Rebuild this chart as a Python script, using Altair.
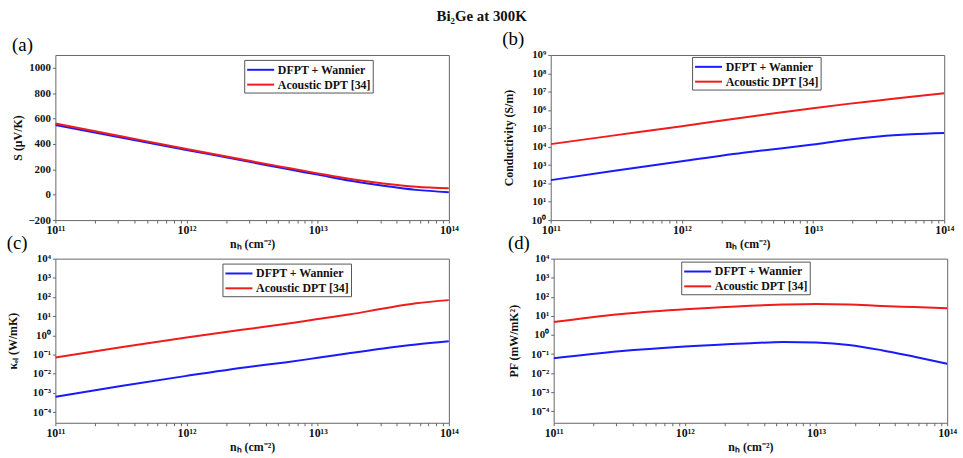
import altair as alt
import pandas as pd

# x positions: log10 of hole density n_h (cm^-2)
exps = [11, 11.5, 12, 12.5, 12.75, 13, 13.25, 13.5, 13.75, 14]
series_names = ["DFPT + Wannier", "Acoustic DPT [34]"]

# (a) Seebeck coefficient S (uV/K)
s_dfpt = [548, 450, 352, 255, 205, 158, 110, 70, 38, 20]
s_adpt = [560, 460, 360, 263, 215, 168, 123, 88, 62, 50]

# (b) Conductivity (S/m)
c_dfpt = [151, 501, 1622, 5012, 7943, 1.32e4, 2.34e4, 3.63e4, 4.79e4, 5.62e4]
c_adpt = [1.38e4, 4.27e4, 1.32e5, 4.17e5, 7.24e5, 1.26e6, 2.09e6, 3.31e6, 5.25e6, 8.13e6]

# (c) electronic thermal conductivity (W/mK)
k_dfpt = [6.3e-4, 2.3e-3, 7.8e-3, 0.024, 0.039, 0.068, 0.12, 0.21, 0.34, 0.50]
k_adpt = [0.071, 0.24, 0.78, 2.3, 3.9, 7.1, 12.6, 25, 47, 69]

# (d) power factor (mW/mK^2)
p_dfpt = [0.06, 0.14, 0.25, 0.37, 0.43, 0.40, 0.30, 0.16, 0.072, 0.031]
p_adpt = [4.8, 12.3, 22, 34, 39, 42, 40, 33, 29, 25]

BLUE = "#1a1aff"
RED = "#f01c1c"
FONT = "Liberation Serif"

SUP = {"-": "⁻", "0": "⁰", "1": "¹", "2": "²", "3": "³", "4": "⁴",
       "5": "⁵", "6": "⁶", "7": "⁷", "8": "⁸", "9": "⁹"}


def sup(n):
    return "".join(SUP[ch] for ch in str(n))


sup_arr = "[" + ",".join("'10" + sup(e) + "'" for e in range(-6, 16)) + "]"
log_label = (
    "abs(datum.value / pow(10, round(log(datum.value) / LN10)) - 1) < 1e-6 ? "
    + sup_arr + "[round(log(datum.value) / LN10) + 6] : ''"
)

x_ticks = [k * 10.0 ** e for e in range(11, 14) for k in range(1, 10)] + [1e14]


def make_df(y1, y2):
    rows = []
    for name, ys in zip(series_names, [y1, y2]):
        for e, v in zip(exps, ys):
            rows.append({"n": 10.0 ** e, "v": v, "series": name})
    return pd.DataFrame(rows)


def panel(y1, y2, label, yscale, yaxis, lx, ly, h):
    return (
        alt.Chart(make_df(y1, y2))
        .mark_line(strokeWidth=2, interpolate="monotone", clip=True)
        .encode(
            x=alt.X(
                "n:Q",
                scale=alt.Scale(type="log", domain=[1e11, 1e14], nice=False),
                axis=alt.Axis(
                    title="nₕ (cm⁻²)",
                    values=x_ticks,
                    labelExpr=log_label,
                    labelOverlap=False,
                    labelFlush=False,
                    labelFontSize=12,
                ),
            ),
            y=alt.Y("v:Q", scale=yscale, axis=yaxis),
            color=alt.Color(
                "series:N",
                scale=alt.Scale(domain=series_names, range=[BLUE, RED]),
                legend=alt.Legend(
                    title=None,
                    orient="none",
                    legendX=lx,
                    legendY=ly,
                    symbolType="M-1,0L2.9,0",
                    symbolSize=196,
                    symbolStrokeWidth=2,
                    labelFont=FONT,
                    labelFontWeight="bold",
                    labelFontSize=12,
                    labelColor="#111",
                    labelOffset=16,
                    strokeColor="#555",
                    fillColor="white",
                    padding=2,
                    rowPadding=1,
                ),
            ),
        )
        .properties(
            width=398,
            height=h,
            title=alt.TitleParams(
                label, anchor="start", frame="bounds", font=FONT,
                fontSize=19, fontWeight="normal", offset=0,
            ),
        )
    )


def log_axis(title, lo, hi, tp):
    return alt.Axis(
        title=title,
        values=[10.0 ** e for e in range(lo, hi + 1)],
        labelExpr=log_label,
        labelOverlap=False,
        labelFlush=False,
        titlePadding=tp,
    )


a = panel(
    s_dfpt, s_adpt, "(a)",
    alt.Scale(domain=[-200, 1100], nice=False),
    alt.Axis(title="S (μV/K)", values=list(range(-200, 1001, 200)),
             format="d", labelOverlap=False, labelFlush=False),
    191, 5, 167,
)
b = panel(
    c_dfpt, c_adpt, "(b)",
    alt.Scale(type="log", domain=[1, 1e9], nice=False),
    log_axis("Conductivity (S/m)", 0, 9, 16),
    143, 2, 167,
)
c = panel(
    k_dfpt, k_adpt, "(c)",
    alt.Scale(type="log", domain=[2.8e-5, 1e4], nice=False),
    log_axis("κₑₗ (W/mK)", -4, 4, 13),
    169, 5, 166,
)
d = panel(
    p_dfpt, p_adpt, "(d)",
    alt.Scale(type="log", domain=[2.5e-5, 1e4], nice=False),
    log_axis("PF (mW/mK²)", -4, 4, 10),
    129, 3, 166,
)

row1 = alt.hconcat(a, b, spacing=42).resolve_legend(color="independent")
row2 = alt.hconcat(c, d, spacing=48).resolve_legend(color="independent")

chart = (
    alt.vconcat(row1, row2, spacing=-18)
    .resolve_legend(color="independent")
    .properties(
        title=alt.TitleParams(
            "Bi₂Ge at 300K", anchor="middle", font=FONT, fontSize=15,
            fontWeight="bold", color="#111", offset=6,
        ),
        padding={"left": 6, "top": 6, "right": 5, "bottom": 0},
    )
    .configure_view(stroke="#666", strokeWidth=1)
    .configure_axis(
        labelFont=FONT,
        labelFontWeight="bold",
        labelFontSize=11,
        labelColor="#111",
        titleFont=FONT,
        titleFontWeight="bold",
        titleFontSize=12,
        titleColor="#111",
        grid=False,
        domain=False,
        tickSize=3,
        tickColor="#666",
        labelPadding=2,
        titlePadding=3,
    )
)

chart.save("out.html", embed_options={"renderer": "svg", "actions": False})
